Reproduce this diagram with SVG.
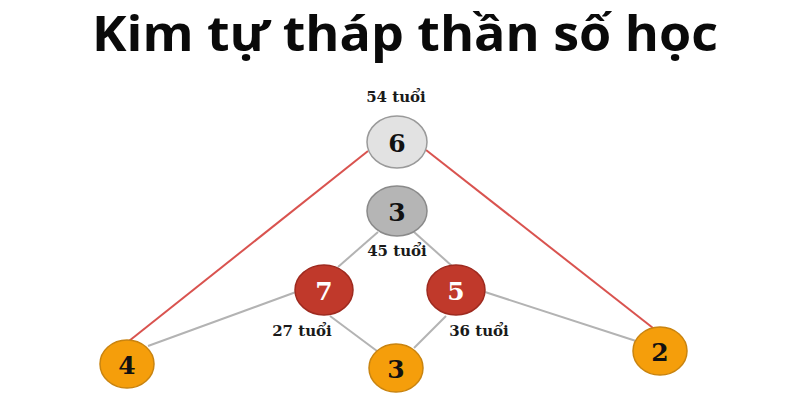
<svg xmlns="http://www.w3.org/2000/svg" width="800" height="400" viewBox="0 0 800 400">
<style>
.title{font-family:"Open Sans","Noto Sans","DejaVu Sans",sans-serif;font-weight:700;font-size:48px;fill:#0a0a0a}
.lbl{font-family:"DejaVu Serif","Liberation Serif",serif;font-weight:700;font-size:15px;fill:#1a1a1a;text-anchor:middle}
.num{font-family:"DejaVu Serif","Liberation Serif",serif;font-weight:700;font-size:25px;text-anchor:middle;dominant-baseline:central}
.red{stroke:#d9534f;stroke-width:2;fill:none}
.gray{stroke:#b3b3b3;stroke-width:2;fill:none}
.orange{fill:#f59e0b;stroke:#c98410;stroke-width:1.5}
.crimson{fill:#c0392b;stroke:#9e2a1f;stroke-width:1.5}
</style>
<rect width="800" height="400" fill="#ffffff"/>
<text class="title" x="92" y="51" textLength="626" lengthAdjust="spacingAndGlyphs">Kim tự tháp thần số học</text>
<g id="connectors">
<line class="red" x1="368" y1="151" x2="129" y2="341"/>
<line class="red" x1="426" y1="150" x2="653" y2="328"/>
<line class="gray" x1="378" y1="232" x2="338" y2="267"/>
<line class="gray" x1="414" y1="232" x2="452" y2="266"/>
<line class="gray" x1="296" y1="292" x2="148" y2="346"/>
<line class="gray" x1="330" y1="316" x2="377" y2="351"/>
<line class="gray" x1="446" y1="316" x2="414" y2="348"/>
<line class="gray" x1="485" y1="292" x2="636" y2="341"/>
</g>
<g id="node-6">
<ellipse cx="397" cy="142" rx="30" ry="26" fill="#e2e2e2" stroke="#9a9a9a" stroke-width="1.5"/>
<text class="num" x="397" y="143" fill="#111">6</text>
</g>
<g id="label-54"><text class="lbl" x="396" y="102">54 tuổi</text></g>
<g id="node-3-gray">
<ellipse cx="397" cy="211" rx="30" ry="25" fill="#b5b5b5" stroke="#8a8a8a" stroke-width="1.5"/>
<text class="num" x="397" y="212" fill="#111">3</text>
</g>
<g id="label-45"><text class="lbl" x="397" y="256">45 tuổi</text></g>
<g id="node-7">
<ellipse cx="324" cy="290" rx="29" ry="25" class="crimson"/>
<text class="num" x="324" y="291" fill="#ffffff">7</text>
</g>
<g id="label-27"><text class="lbl" x="302" y="336">27 tuổi</text></g>
<g id="node-5">
<ellipse cx="456" cy="290" rx="29" ry="25" class="crimson"/>
<text class="num" x="456" y="291" fill="#ffffff">5</text>
</g>
<g id="label-36"><text class="lbl" x="479" y="336">36 tuổi</text></g>
<g id="node-4">
<ellipse cx="127" cy="364" rx="27" ry="24" class="orange"/>
<text class="num" x="127" y="365" fill="#111">4</text>
</g>
<g id="node-3-orange">
<ellipse cx="396" cy="368" rx="27" ry="24" class="orange"/>
<text class="num" x="396" y="369" fill="#111">3</text>
</g>
<g id="node-2">
<ellipse cx="660" cy="351" rx="27" ry="24" class="orange"/>
<text class="num" x="660" y="352" fill="#111">2</text>
</g>
</svg>
